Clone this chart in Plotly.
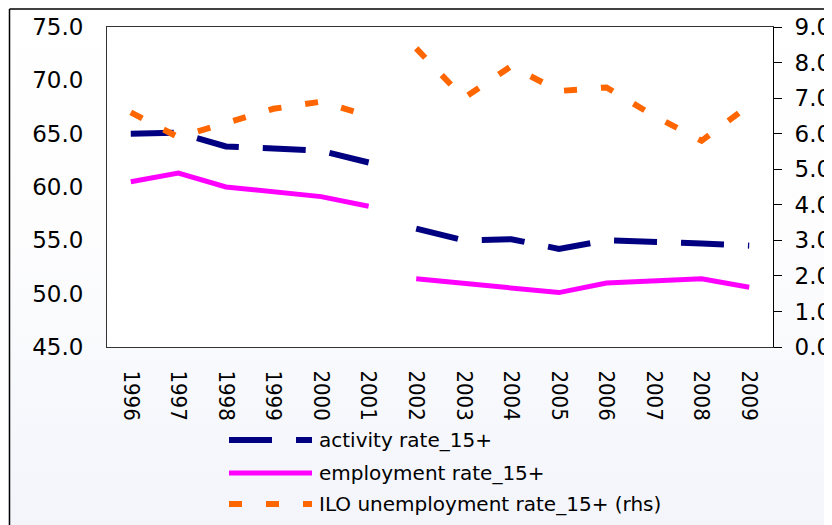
import base64
import plotly.graph_objects as go

# ---------------- data ----------------
years = ["1996", "1997", "1998", "1999", "2000", "2001", "2002",
         "2003", "2004", "2005", "2006", "2007", "2008", "2009"]
activity = [65.0, 65.1, 63.8, 63.6, 63.4, 62.3, 56.1,
            55.0, 55.1, 54.2, 55.0, 54.9, 54.7, 54.5]
employment = [60.5, 61.3, 60.0, 59.5, 59.1, 58.2, 51.4,
              51.0, 50.5, 50.1, 51.0, 51.2, 51.4, 50.6]
unemployment = [6.6, 5.9, 6.3, 6.7, 6.9, 6.5, 8.4,
                7.0, 7.9, 7.2, 7.3, 6.5, 5.8, 6.8]
break_after = "2001"   # series break between 2001 and 2002
series_names = ["activity rate_15+", "employment rate_15+",
                "ILO unemployment rate_15+ (rhs)"]

# ---------------- layout geometry (page pixels) ----------------
OFF = 8                      # default body margin of the html page
PAGE_W, PAGE_H = 832, 525
W, H = PAGE_W - OFF, PAGE_H - OFF
PL, PR, PT, PB = 107, 773, 27, 347          # plot area on the page
L, T = PL - OFF, PT - OFF
R, B = W - (PR - OFF), H - (PB - OFF)
PW, PH = PR - PL, PB - PT


def px_x(px):
    """page x pixel -> paper coordinate"""
    return (px - PL) / PW


def px_y(py):
    """page y pixel -> paper coordinate"""
    return (PB - py) / PH


def with_break(xs, ys):
    i = xs.index(break_after) + 1
    return xs[:i] + [None] + xs[i:], ys[:i] + [None] + ys[i:]


NAVY = "#000080"
MAGENTA = "#FF00FF"
ORANGE = "#FF6600"
DASH_ACT = "43px,24px"
DASH_ILO = "13px,24px"

fig = go.Figure()

x1, y1 = with_break(years, activity)
fig.add_trace(go.Scatter(x=x1, y=y1, mode="lines", name=series_names[0],
                         line=dict(color=NAVY, width=6, dash=DASH_ACT),
                         showlegend=False, yaxis="y"))
x2, y2 = with_break(years, employment)
fig.add_trace(go.Scatter(x=x2, y=y2, mode="lines", name=series_names[1],
                         line=dict(color=MAGENTA, width=5),
                         showlegend=False, yaxis="y"))
x3, y3 = with_break(years, unemployment)
fig.add_trace(go.Scatter(x=x3, y=y3, mode="lines", name=series_names[2],
                         line=dict(color=ORANGE, width=6, dash=DASH_ILO),
                         showlegend=False, yaxis="y2"))

TICKFONT = dict(family="DejaVu Sans", size=23, color="#000000")
XFONT = dict(family="DejaVu Sans Condensed, DejaVu Sans", size=22, color="#000000")

fig.update_layout(
    width=W, height=H,
    margin=dict(l=L, r=R, t=T, b=B, autoexpand=False),
    paper_bgcolor="#ffffff",
    plot_bgcolor="rgba(0,0,0,0)",
    showlegend=False,
    xaxis=dict(type="category", categoryorder="array", categoryarray=years,
               range=[-0.5, len(years) - 0.5], tickangle=90,
               tickfont=XFONT, showgrid=False, zeroline=False,
               showline=True, linecolor="#333333", linewidth=1, mirror=True,
               ticks="", ticklabelstandoff=18),
    yaxis=dict(range=[45, 75], dtick=5, tickformat=".1f", tickfont=TICKFONT,
               showgrid=False, zeroline=False, showline=True,
               linecolor="#333333", linewidth=1, mirror=True, ticks="",
               ticklabelstandoff=18),
    yaxis2=dict(range=[0, 9], dtick=1, tickformat=".1f", tickfont=TICKFONT,
                overlaying="y", side="right", anchor="x", showgrid=False,
                zeroline=False, showline=True, linecolor="#000000", linewidth=1,
                ticks="outside", ticklen=8, tickcolor="#000000", tickwidth=1,
                ticklabelstandoff=8),
    yaxis3=dict(range=[0, 9], dtick=1, overlaying="y", side="right", anchor="x",
                showgrid=False, zeroline=False, showline=False,
                ticks="inside", ticklen=8, tickcolor="#000000", tickwidth=1,
                showticklabels=False),
)

# background gradient (page) as inline SVG image
svg = ('<svg xmlns="http://www.w3.org/2000/svg" width="832" height="525">'
       '<defs><linearGradient id="g" x1="0" y1="0" x2="0" y2="1">'
       '<stop offset="0" stop-color="#ffffff"/>'
       '<stop offset="0.45" stop-color="#fdfdfe"/>'
       '<stop offset="1" stop-color="#f3f5fb"/>'
       '</linearGradient></defs>'
       '<rect width="832" height="525" fill="url(#g)"/></svg>')
src = "data:image/svg+xml;base64," + base64.b64encode(svg.encode()).decode()
fig.add_layout_image(dict(source=src, xref="paper", yref="paper",
                          x=px_x(0), y=px_y(0), sizex=PAGE_W / PW,
                          sizey=PAGE_H / PH, xanchor="left", yanchor="top",
                          sizing="stretch", layer="below"))

# white plot area
fig.add_shape(type="rect", xref="paper", yref="paper", x0=0, x1=1, y0=0, y1=1,
              fillcolor="#ffffff", line=dict(width=0), layer="below")

# outer chart frame (top and left edges visible)
fig.add_shape(type="line", xref="paper", yref="paper",
              x0=px_x(9.5), x1=px_x(PAGE_W + 5), y0=px_y(9), y1=px_y(9),
              line=dict(color="#000000", width=1.5))
fig.add_shape(type="line", xref="paper", yref="paper",
              x0=px_x(9.5), x1=px_x(9.5), y0=px_y(9), y1=px_y(PAGE_H + 5),
              line=dict(color="#000000", width=1.5))

# manual legend
legend_rows = [
    (series_names[0], NAVY, 6, DASH_ACT, 440),
    (series_names[1], MAGENTA, 5, "solid", 473),
    (series_names[2], ORANGE, 6, DASH_ILO, 504),
]
for name, color, width, dash, ypx in legend_rows:
    fig.add_shape(type="line", xref="paper", yref="paper",
                  x0=px_x(229), x1=px_x(312), y0=px_y(ypx), y1=px_y(ypx),
                  line=dict(color=color, width=width, dash=dash))
    fig.add_annotation(xref="paper", yref="paper", x=px_x(317), y=px_y(ypx),
                       xanchor="left", yanchor="middle", text=name,
                       showarrow=False,
                       font=dict(family="DejaVu Sans", size=20, color="#000000"))

fig.write_html("out.html")
